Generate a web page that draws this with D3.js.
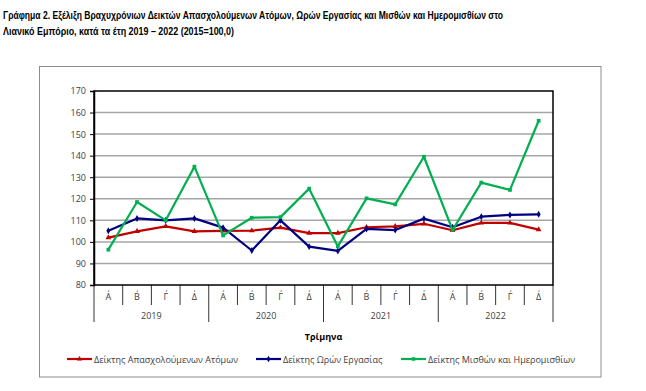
<!DOCTYPE html>
<html>
<head>
<meta charset="utf-8">
<script src="https://cdn.jsdelivr.net/npm/d3@7"></script>
<style>
  body { margin: 0; background: #fff; }
  text { font-family: "Open Sans", "DejaVu Sans", sans-serif; }
</style>
</head>
<body>
<script>
var quarters = ["Α΄", "Β΄", "Γ΄", "Δ΄"];
var years = ["2019", "2020", "2021", "2022"];
var yTicks = [80, 90, 100, 110, 120, 130, 140, 150, 160, 170];

// Δείκτης Απασχολούμενων Ατόμων
var employed = [102.0, 104.9, 107.2, 104.9, 105.1, 105.2, 106.6, 104.1,
                104.1, 106.8, 107.2, 108.4, 105.4, 108.8, 108.8, 105.7];
// Δείκτης Ωρών Εργασίας
var hours = [105.2, 110.9, 110.0, 110.9, 106.6, 96.0, 110.0, 97.8,
             95.8, 106.0, 105.5, 110.8, 106.8, 111.7, 112.5, 112.8];
// Δείκτης Μισθών και Ημερομισθίων
var wages = [96.4, 118.5, 110.0, 134.9, 103.0, 111.2, 111.5, 124.7,
             97.9, 120.2, 117.4, 139.5, 105.5, 127.5, 124.1, 156.2];

var series = [
  {name: "Δείκτης Απασχολούμενων Ατόμων", values: employed, color: "#c00000", marker: "triangle"},
  {name: "Δείκτης Ωρών Εργασίας", values: hours, color: "#000080", marker: "diamond"},
  {name: "Δείκτης Μισθών και Ημερομισθίων", values: wages, color: "#00b050", marker: "square"}
];

var W = 646, H = 391;
var margin = {top: 91, right: 93, bottom: 106, left: 94};
var width = W - margin.left - margin.right,
    height = H - margin.top - margin.bottom;

var svg = d3.select("body").append("svg")
    .attr("width", W)
    .attr("height", H);

// title, two lines
var titleLines = [
  {t: "Γράφημα 2. Εξέλιξη Βραχυχρόνιων Δεικτών Απασχολούμενων Ατόμων, Ωρών Εργασίας και Μισθών και Ημερομισθίων στο", w: 500},
  {t: "Λιανικό Εμπόριο, κατά τα έτη 2019 – 2022 (2015=100,0)", w: 231}
];
svg.selectAll(".title").data(titleLines).enter().append("text")
    .attr("x", 3).attr("y", function(d, i) { return 19 + i * 16; })
    .attr("textLength", function(d) { return d.w; })
    .attr("lengthAdjust", "spacingAndGlyphs")
    .style("font-family", "'Liberation Sans', Arial, sans-serif")
    .style("font-size", "10px").style("font-weight", "bold").attr("fill", "#000")
    .text(function(d) { return d.t; });

// outer chart frame
svg.append("rect")
    .attr("x", 39.5).attr("y", 66.5)
    .attr("width", 561.5).attr("height", 310.5)
    .attr("fill", "none").attr("stroke", "#8c8c8c").attr("stroke-width", 1);

var g = svg.append("g")
    .attr("transform", "translate(" + margin.left + "," + margin.top + ")");

var keys = d3.range(16);
var x = d3.scaleBand().domain(keys).range([0, width]);
var y = d3.scaleLinear().domain([80, 170]).range([height, 0]);

// gridlines
g.selectAll(".grid").data(yTicks.slice(1, -1)).enter().append("line")
    .attr("x1", 0).attr("x2", width)
    .attr("y1", function(d) { return y(d); }).attr("y2", function(d) { return y(d); })
    .attr("stroke", "#a6a6a6").attr("stroke-width", 1.5);

// plot border
g.append("rect")
    .attr("width", width).attr("height", height)
    .attr("fill", "none").attr("stroke", "#000").attr("stroke-width", 1.5);

// y axis
var yAxis = g.append("g")
    .call(d3.axisLeft(y).tickValues(yTicks).tickSize(4).tickPadding(4));
yAxis.select(".domain").attr("stroke", "#000").attr("stroke-width", 1.5);
yAxis.selectAll(".tick line").attr("stroke", "#000");
yAxis.selectAll("text").style("font-size", "9px").attr("fill", "#404040");

// x axis: quarters
var xAxis = g.append("g")
    .attr("transform", "translate(0," + height + ")");
xAxis.selectAll(".qsep").data(d3.range(17)).enter().append("line")
    .attr("x1", function(d) { return d * x.bandwidth(); })
    .attr("x2", function(d) { return d * x.bandwidth(); })
    .attr("y1", 0)
    .attr("y2", function(d) { return d % 4 === 0 ? 37 : 20; })
    .attr("stroke", "#000").attr("stroke-width", 0.8);
xAxis.selectAll(".qlab").data(keys).enter().append("text")
    .attr("x", function(d) { return x(d) + x.bandwidth() / 2; })
    .attr("y", 15)
    .attr("text-anchor", "middle")
    .style("font-size", "9px").attr("fill", "#404040")
    .text(function(d) { return quarters[d % 4]; });
xAxis.selectAll(".ylab").data(years).enter().append("text")
    .attr("x", function(d, i) { return x(i * 4) + x.bandwidth() * 2; })
    .attr("y", 34)
    .attr("text-anchor", "middle")
    .style("font-size", "9px").attr("fill", "#404040")
    .text(function(d) { return d; });

g.append("text")
    .attr("x", width / 2).attr("y", height + 55)
    .attr("text-anchor", "middle")
    .style("font-size", "9px").style("font-weight", "bold").attr("fill", "#000")
    .text("Τρίμηνα");

// lines
var line = d3.line()
    .x(function(d, i) { return x(i) + x.bandwidth() / 2; })
    .y(function(d) { return y(d); });

var symbols = {triangle: d3.symbolTriangle, diamond: d3.symbolDiamond, square: d3.symbolSquare};

series.forEach(function(s) {
  g.append("path")
      .datum(s.values)
      .attr("fill", "none")
      .attr("stroke", s.color)
      .attr("stroke-width", 2.2)
      .attr("stroke-linejoin", "round")
      .attr("d", line);
  g.selectAll(".m-" + s.marker).data(s.values).enter().append("path")
      .attr("transform", function(d, i) { return "translate(" + (x(i) + x.bandwidth() / 2) + "," + y(d) + ")"; })
      .attr("d", d3.symbol().type(symbols[s.marker]).size(14))
      .attr("fill", s.color);
});

// legend
var legendX = [67, 256, 401];
var leg = svg.selectAll(".legend").data(series).enter().append("g")
    .attr("transform", function(d, i) { return "translate(" + legendX[i] + ",359)"; });
leg.append("line")
    .attr("x1", 0).attr("x2", 25)
    .attr("stroke", function(d) { return d.color; }).attr("stroke-width", 2.2);
leg.append("path")
    .attr("transform", "translate(12.5,0)")
    .attr("d", function(d) { return d3.symbol().type(symbols[d.marker]).size(12)(); })
    .attr("fill", function(d) { return d.color; });
leg.append("text")
    .attr("x", 27).attr("y", 3.5)
    .style("font-size", "9px").attr("fill", "#404040")
    .text(function(d) { return d.name; });
</script>
</body>
</html>
